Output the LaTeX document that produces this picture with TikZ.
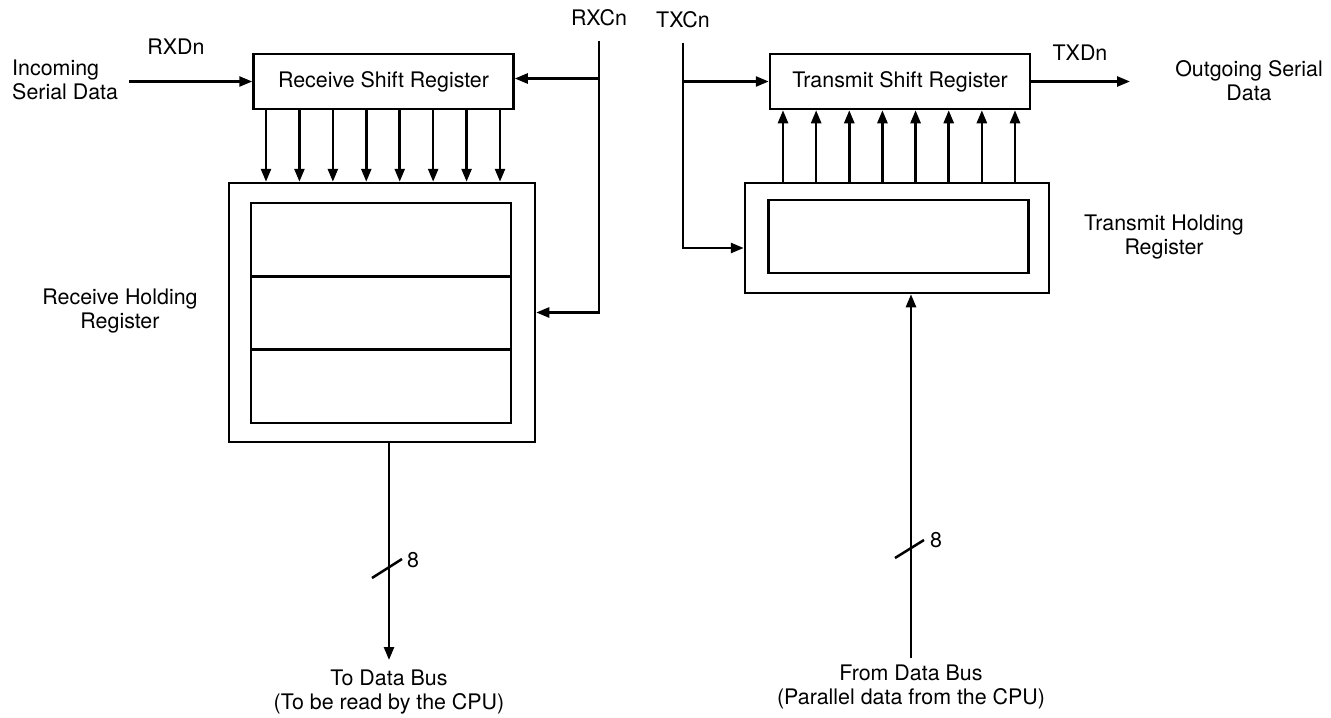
\documentclass[tikz,border=0pt]{standalone}
\usepackage{fontspec}
\setmainfont{TeX Gyre Heros}
\usetikzlibrary{arrows.meta,calc}
\begin{document}
\begin{tikzpicture}[x=0.5pt,y=-0.5pt,
  line width=1.25pt,
  font=\fontsize{10.7}{11.9}\selectfont,
  arr/.style={-{Triangle[length=6.5pt,width=5pt]}},
  box/.style={draw,inner sep=0pt,minimum width=130pt,minimum height=27.5pt},
  lbl/.style={inner sep=0pt,align=center},
  cell/.style={draw,inner sep=0pt,minimum width=130pt,minimum height=36.67pt}]
\useasboundingbox (0,0) rectangle (1331,717);

% shift registers
\node[box] (rsr) at (383.5,81.5) {Receive Shift Register};
\node[box] (tsr) at (900,81.5) {Transmit Shift Register};

% receive holding register
\node[draw,inner sep=0pt,minimum width=153pt,minimum height=129.5pt] (rhr) at (382,312.5) {};
\node[cell] (rc1) at (381,239.67) {};
\node[cell] (rc2) at (381,313) {};
\node[cell] (rc3) at (381,386.33) {};

% transmit holding register
\node[draw,inner sep=0pt,minimum width=152pt,minimum height=55pt] (thr) at (897,238) {};
\node[cell] (tc) at (898.5,236.5) {};

% parallel arrows
\foreach \i in {0,...,7}{
  \coordinate (rx\i) at ({266+\i*33.43},0);
  \draw[arr] (rsr.south -| rx\i) -- (rhr.north -| rx\i);
  \coordinate (tx\i) at ({783+\i*33.14},0);
  \draw[arr] (thr.north -| tx\i) -- (tsr.south -| tx\i);
}

% labels
\node[lbl,align=left,anchor=west] (inc) at (11,80) {Incoming\\Serial Data};
\node[lbl] (rxd) at (176,47) {RXDn};
\node[lbl] (rxcl) at (599,18) {RXCn};
\node[lbl] (txcl) at (683,20) {TXCn};
\node[lbl] (txd) at (1080,53) {TXDn};
\node[lbl] (outl) at (1249,81) {Outgoing Serial\\Data};
\node[lbl] (rhl) at (120,311) {Receive Holding\\Register};
\node[lbl] (thl) at (1164,237) {Transmit Holding\\Register};
\node[lbl] (rxbl) at (389,692) {To Data Bus\\(To be read by the CPU)};
\node[lbl] (txbl) at (911,687) {From Data Bus\\(Parallel data from the CPU)};

% serial in / out
\coordinate (incs) at (129,81.5);
\draw[arr] (incs) -- (rsr.west);
\coordinate (outend) at (1130,81.5);
\draw[arr] (tsr.east) -- (outend);

% receive clock
\coordinate (rxtop) at (599,41);
\coordinate (rxj) at (599,78.5);
\draw[arr] (rxtop) |- (rhr.east);
\draw[arr] (rxj) -- (rxj -| rsr.east);

% transmit clock
\coordinate (txtop) at (683,43);
\coordinate (txbot) at (683,248);
\draw[arr] (txtop) -- (txbot) -- (txbot -| thr.west);
\draw[arr] (txtop |- tsr.west) -- (tsr.west);

% data buses
\coordinate (rxb) at (389,660);
\draw[arr] (rhr.south -| rxb) -- (rxb);
\coordinate (rsla) at (372,578);
\coordinate (rslb) at (402,559);
\draw (rsla) -- (rslb);
\node[lbl] (r8) at (413,560) {8};

\coordinate (txb) at (911,658);
\draw[arr] (txb) -- (thr.south -| txb);
\coordinate (tsla) at (895,558);
\coordinate (tslb) at (924,540);
\draw (tsla) -- (tslb);
\node[lbl] (t8) at (936,540) {8};
\end{tikzpicture}
\end{document}
